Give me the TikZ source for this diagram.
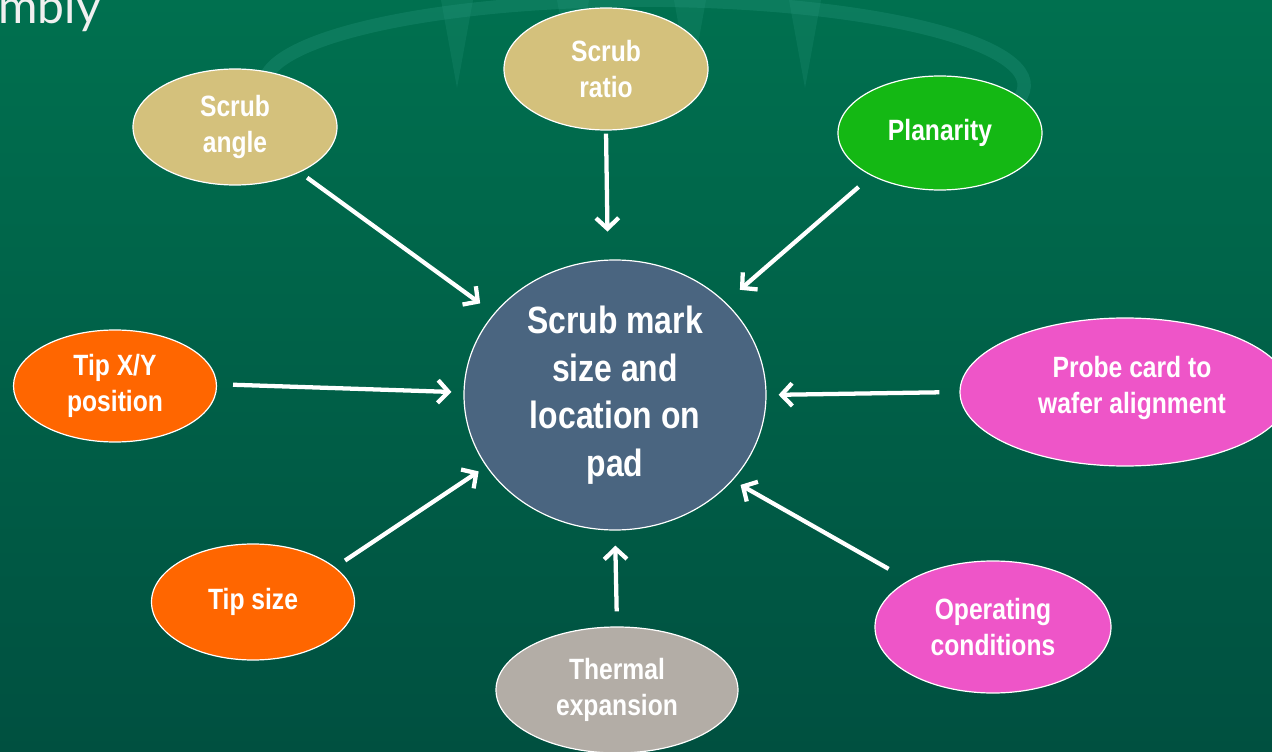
\documentclass[tikz,border=0pt]{standalone}
\usepackage{fontspec}
\setmainfont{Liberation Sans}[FakeStretch=0.84]
\newfontfamily\titlefont{Lato}
\usetikzlibrary{shapes.geometric,arrows.meta}
\definecolor{bgtop}{HTML}{00704F}
\definecolor{bgbot}{HTML}{005040}
\definecolor{tan}{HTML}{D4C17C}
\definecolor{plgreen}{HTML}{14B814}
\definecolor{tiporange}{HTML}{FF6600}
\definecolor{pinkc}{HTML}{EE55C8}
\definecolor{greyc}{HTML}{B3ADA6}
\definecolor{bluec}{HTML}{4A6580}
\definecolor{ringc}{HTML}{2A9A80}
\tikzset{
  bubble/.style={ellipse, draw=white, line width=0.9pt, inner sep=0pt, text=white,
    align=center, font=\bfseries\fontsize{22}{27.5}\selectfont},
  hub/.style={ellipse, draw=white, line width=0.9pt, inner sep=0pt, text=white,
    align=center, fill=bluec, font=\bfseries\fontsize{28.5}{35.6}\selectfont},
  arr/.style={draw=white, line width=3.2pt, -{Straight Barb[length=8pt,width=17pt]}},
}
\begin{document}
\begin{tikzpicture}[x=0.75pt,y=-0.75pt]
\useasboundingbox (0,0) rectangle (1272,752);
\clip (0,0) rectangle (1272,752);
\shade[top color=bgtop, bottom color=bgbot] (0,0) rectangle (1272,752);
% faint background decoration
\draw[ringc, opacity=0.3, line width=10pt] (270,100) arc[start angle=170, end angle=370, x radius=380, y radius=85];
\foreach \xx in {457,573,690,805}
  \fill[ringc, opacity=0.22] (\xx-16,0) -- (\xx+16,0) -- (\xx,88) -- cycle;
% title fragment
\node[anchor=base east, text=white!88!gray, font=\titlefont\fontsize{36}{36}\selectfont, inner sep=0pt] (title) at (101,24) {mbly};
% hub
\node[hub, minimum width=302*0.75pt, minimum height=270*0.75pt] (c) at (615,395) {Scrub mark\\size and\\location on\\pad};
% bubbles
\node[bubble, fill=tan, minimum width=204*0.75pt, minimum height=116*0.75pt] (sa) at (235,127) {Scrub\\angle};
\node[bubble, fill=tan, minimum width=204*0.75pt, minimum height=122*0.75pt] (sr) at (606,69) {Scrub\\ratio};
\node[bubble, fill=plgreen, minimum width=204*0.75pt, minimum height=114*0.75pt] (pl) at (940,133) {Planarity};
\node[bubble, fill=tiporange, minimum width=203*0.75pt, minimum height=112*0.75pt] (tx) at (115,386) {Tip X/Y\\position};
\node[bubble, fill=pinkc, minimum width=330*0.75pt, minimum height=148*0.75pt] (pr) at (1125,392) {};
\node[text=white, align=center, font=\bfseries\fontsize{22}{27}\selectfont] (prt) at (1132,388) {Probe card to\\wafer alignment};
\node[bubble, fill=tiporange, minimum width=203*0.75pt, minimum height=116*0.75pt] (ts) at (253,602) {Tip size};
\node[bubble, fill=greyc, minimum width=242*0.75pt, minimum height=126*0.75pt] (th) at (617,690) {Thermal\\expansion};
\node[bubble, fill=pinkc, minimum width=236*0.75pt, minimum height=132*0.75pt] (oc) at (993,627) {Operating\\conditions};
% connectors
\draw[arr, shorten <=9*0.75pt, shorten >=17*0.75pt] (sa.-35) -- (c.146);
\draw[arr, shorten <=3*0.75pt, shorten >=28*0.75pt] (sr.south) -- (c.93);
\draw[arr, shorten <=17*0.75pt, shorten >=19*0.75pt] (pl.212) -- (c.40);
\draw[arr, shorten <=16*0.75pt, shorten >=12*0.75pt] (tx.1) -- (c.179);
\draw[arr, shorten <=20*0.75pt, shorten >=12*0.75pt] (pr.west) -- (c.east);
\draw[arr, shorten <=12*0.75pt, shorten >=9*0.75pt] (ts.23) -- (c.209);
\draw[arr, shorten <=15*0.75pt, shorten >=15*0.75pt] (th.north) -- (c.south);
\draw[arr, shorten <=23*0.75pt, shorten >=9*0.75pt] (oc.151) -- (c.-36);
\end{tikzpicture}
\end{document}
